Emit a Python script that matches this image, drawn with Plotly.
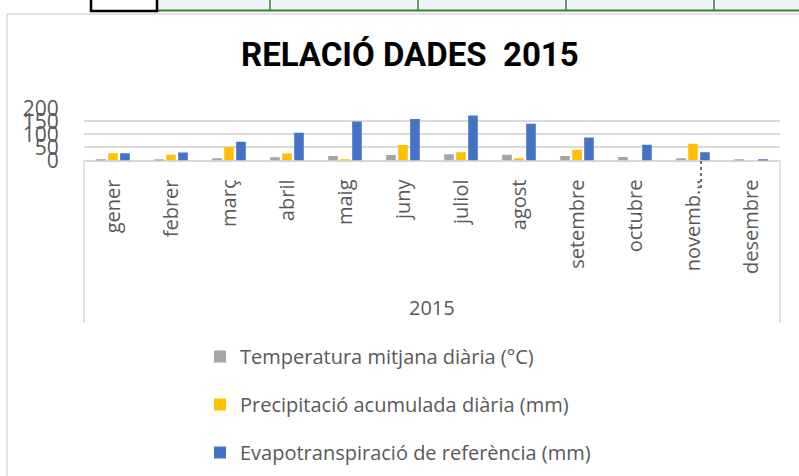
import plotly.graph_objects as go

# ---- data ----
months = ["gener", "febrer", "març", "abril", "maig", "juny", "juliol",
          "agost", "setembre", "octubre", "novembre", "desembre"]
month_labels = ["gener", "febrer", "març", "abril", "maig", "juny", "juliol",
                "agost", "setembre", "octubre", "novemb…", "desembre"]
temperatura = [5, 4, 9, 12, 17, 21, 24, 22, 17, 13, 9, 4]
precipitacio = [28, 22, 51, 27, 4, 59, 32, 9, 41, 0, 64, 0]
evapotranspiracio = [28, 31, 72, 106, 149, 159, 172, 141, 88, 60, 32, 1]
y_ticks = [0, 50, 100, 150, 200]
group_label = "2015"
title_text = "RELACIÓ DADES \u00a02015"
series_names = ["Temperatura mitjana diària (°C)",
                "Precipitació acumulada diària (mm)",
                "Evapotranspiració de referència (mm)"]
series_colors = ["#A5A5A5", "#FFC000", "#4472C4"]

W, H = 799, 476
def px(x):
    return x / W
def py(y):
    return (H - y) / H

fig = go.Figure()
for name, vals, col in zip(series_names, [temperatura, precipitacio, evapotranspiracio], series_colors):
    fig.add_trace(go.Bar(x=months, y=vals, name=name, marker_color=col,
                         marker_line_width=0, legendgroup=name))

txt = "#595959"
grid = "#D9D9D9"
fig.update_layout(
    width=W, height=H, autosize=False,
    margin=dict(l=0, r=0, t=0, b=0, pad=0, autoexpand=False),
    paper_bgcolor="white", plot_bgcolor="white",
    barmode="group", bargap=0.38, bargroupgap=0.2,
    font=dict(family="Open Sans", color=txt),
    showlegend=True,
    legend=dict(orientation="v", x=px(200), y=py(337), xanchor="left", yanchor="top",
                font=dict(family="Open Sans", size=20, color=txt),
                traceorder="grouped", tracegroupgap=19, bgcolor="rgba(0,0,0,0)"),
    xaxis=dict(domain=[px(84), px(780)], type="category", automargin=False,
               tickmode="array", tickvals=months, ticktext=month_labels,
               tickangle=-90, tickfont=dict(family="Open Sans", size=20, color=txt),
               ticks="outside", ticklen=10, tickcolor="rgba(0,0,0,0)",
               showgrid=False, showline=False, zeroline=False, fixedrange=True),
    yaxis=dict(domain=[py(160.5), py(108.3)], range=[0, 200], automargin=False,
               tickmode="array", tickvals=y_ticks,
               tickfont=dict(family="Open Sans", size=21, color=txt),
               ticks="outside", ticklen=20, tickcolor="rgba(0,0,0,0)",
               showgrid=True, gridcolor=grid, gridwidth=1.5,
               zeroline=True, zerolinecolor=grid, zerolinewidth=1.5,
               showline=False, fixedrange=True),
)

shapes = []
# chart frame
shapes.append(dict(type="rect", xref="paper", yref="paper",
                   x0=px(7), x1=px(805), y0=py(482), y1=py(14),
                   line=dict(color="#D9D9D9", width=1.5)))
# category box dividers
for xx in (84, 780):
    shapes.append(dict(type="line", xref="paper", yref="paper",
                       x0=px(xx), x1=px(xx), y0=py(160.5), y1=py(323),
                       line=dict(color=grid, width=1.5)))
# dotted page-break fragment
shapes.append(dict(type="line", xref="paper", yref="paper",
                   x0=px(701), x1=px(701), y0=py(161), y1=py(190),
                   line=dict(color="#404040", width=1.5, dash="dot")))
# spreadsheet row fragment at the top
shapes.append(dict(type="rect", xref="paper", yref="paper",
                   x0=px(157), x1=px(805), y0=py(11), y1=py(-5),
                   fillcolor="#EEF3F7", line=dict(width=0)))
shapes.append(dict(type="line", xref="paper", yref="paper",
                   x0=px(157), x1=px(805), y0=py(10.5), y1=py(10.5),
                   line=dict(color="#3A7F2E", width=2)))
for xx in (270, 418, 566, 714):
    shapes.append(dict(type="line", xref="paper", yref="paper",
                       x0=px(xx), x1=px(xx), y0=py(11), y1=py(-2),
                       line=dict(color="#3A7F2E", width=1.5)))
shapes.append(dict(type="rect", xref="paper", yref="paper",
                   x0=px(91), x1=px(157), y0=py(11), y1=py(-5),
                   fillcolor="white", line=dict(color="black", width=2.5)))
fig.update_layout(shapes=shapes)

fig.add_annotation(text=f"<b>{title_text}</b>", xref="paper", yref="paper",
                   x=px(410), y=py(54), xanchor="center", yanchor="middle",
                   showarrow=False,
                   font=dict(family="Liberation Sans Narrow, Roboto", size=33, color="black"))
fig.add_annotation(text=group_label, xref="paper", yref="paper",
                   x=px(432), y=py(308), xanchor="center", yanchor="middle",
                   showarrow=False, font=dict(family="Open Sans", size=20, color=txt))

fig.write_html("out.html", config={"displayModeBar": False},
               post_script="document.body.style.margin='0';document.body.style.overflow='hidden';")
